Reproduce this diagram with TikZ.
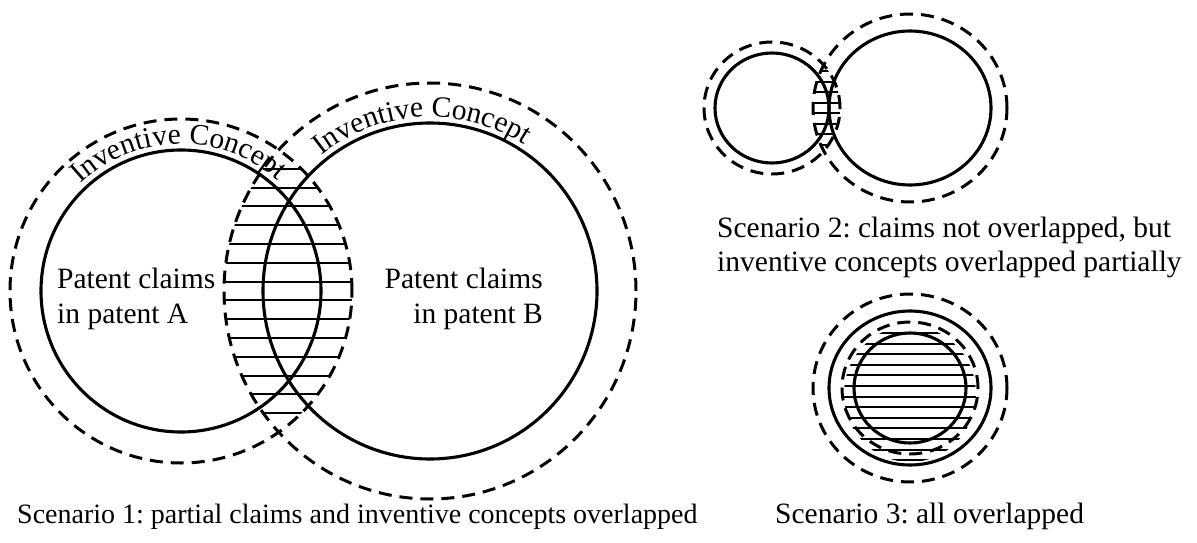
\documentclass[tikz,border=0pt]{standalone}
\usepackage{fontspec}
\setmainfont{Liberation Serif}
\usetikzlibrary{decorations.text,calc,positioning}
\frenchspacing

\begin{document}
\begin{tikzpicture}[x=1pt,y=1pt,
    claim/.style={line width=3.1pt},
    concept/.style={line width=3pt,dash pattern=on 13pt off 8pt},
    hatch/.style={line width=2pt},
    every node/.style={inner sep=0pt,font=\fontsize{29.5}{35}\selectfont}]
    \useasboundingbox (0,0) rectangle (1197,542);
    % scenario 1
    \coordinate (a) at (181,251);
    \coordinate (b) at (430,251);
    \begin{scope}
        \clip (a) ellipse [x radius=171,y radius=172];
        \clip (b) ellipse [x radius=206,y radius=208];
        \foreach \k in {-6,...,7}
            \draw[hatch] (200,{260.4-18.8*\k}) -- (380,{260.4-18.8*\k});
    \end{scope}
    \draw[claim] (a) ellipse [x radius=140,y radius=141];
    \draw[claim] (b) ellipse [x radius=167,y radius=168];
    \draw[concept] (a) ellipse [x radius=171,y radius=172];
    \draw[concept] (b) ellipse [x radius=206,y radius=208];
    \path[decorate,decoration={text along path,text align=center,
        text={|\fontsize{29.5}{35}\selectfont|Inventive Concept}}]
        ($(a)+(159:147)$) arc [start angle=159,end angle=23,radius=147];
    \path[decorate,decoration={text along path,text align=center,
        text={|\fontsize{29.5}{35}\selectfont|Inventive Concept}}]
        ($(b)+(163:174)$) arc [start angle=163,end angle=23,radius=174];
    \node[anchor=west,align=left] (claimsA) at (57,243) {Patent claims\\in patent A};
    \node[anchor=east,align=right] (claimsB) at (543,243) {Patent claims\\in patent B};
    \node[anchor=base west,font=\fontsize{28}{34}\selectfont] (scenA) at (17,19)
        {Scenario 1: partial claims and inventive concepts overlapped};
    % scenario 2
    \coordinate (c) at (772,434);
    \coordinate (d) at (910,434);
    \begin{scope}
        \clip (c) ellipse [x radius=68,y radius=66];
        \clip (d) ellipse [x radius=97,y radius=94];
        \foreach \k in {-3,...,4}
            \draw[hatch] (790,{439.25-10.5*\k}) -- (860,{439.25-10.5*\k});
    \end{scope}
    \draw[claim] (c) ellipse [x radius=57,y radius=55];
    \draw[claim] (d) ellipse [x radius=81,y radius=77];
    \draw[concept] (c) ellipse [x radius=68,y radius=66];
    \draw[concept] (d) ellipse [x radius=97,y radius=94];
    \node[anchor=base west] (scenB) at (717,305) {Scenario 2: claims not overlapped, but};
    \node[below=0pt of scenB.base west,anchor=base west,yshift=-34pt] (scenB2)
        {inventive concepts overlapped partially};
    % scenario 3
    \coordinate (e) at (910,154);
    \begin{scope}
        \clip (910,148) ellipse [x radius=66,y radius=68];
        \foreach \k in {0,...,12}
            \draw[hatch] (830,{209-10.6*\k}) -- (990,{209-10.6*\k});
    \end{scope}
    \draw[concept] (e) ellipse [x radius=97,y radius=94];
    \draw[claim] (e) ellipse [x radius=81,y radius=77];
    \draw[concept] (e) ellipse [x radius=68,y radius=66];
    \draw[claim] (e) ellipse [x radius=56,y radius=55];
    \node[anchor=base west] (scenC) at (775,19) {Scenario 3: all overlapped};
\end{tikzpicture}
\end{document}
